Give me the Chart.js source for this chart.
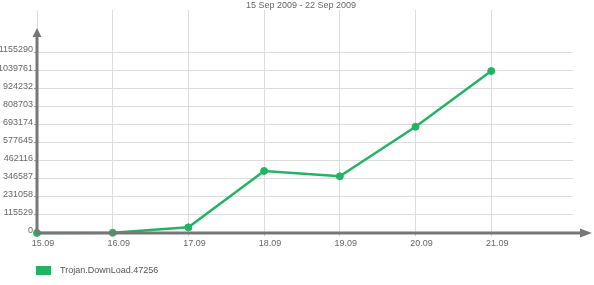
<!DOCTYPE html>
<html>
<head>
<meta charset="utf-8">
<script src="https://cdn.jsdelivr.net/npm/chart.js@4"></script>
<style>
  html, body { margin: 0; padding: 0; background: #fff; }
  #wrap { position: relative; width: 594px; height: 285px; }
  #legend { position: absolute; left: 36px; top: 265px; font: 9px "Liberation Sans", Arial, sans-serif; color: #555; }
  #legend span.box { display: inline-block; width: 15px; height: 9px; background: #22b462; vertical-align: -2px; margin-right: 9px; }
</style>
</head>
<body>
<div id="wrap">
  <canvas id="chart" width="594" height="285"></canvas>
  <div id="legend"><span class="box"></span>Trojan.DownLoad.47256</div>
</div>
<script>
const TITLE   = '15 Sep 2009 - 22 Sep 2009';
const X_LABELS = ['15.09', '16.09', '17.09', '18.09', '19.09', '20.09', '21.09'];
const VALUES   = [0, 1500, 36000, 396000, 362000, 678000, 1034000];
const Y_STEP   = 115529;
const Y_TOP_TICK = 1155290;

const GREEN = '#22b462';
const AXIS  = '#777';
const FONT  = '"Liberation Sans", Arial, sans-serif';

// ── custom axes with arrows + title ─────────────────────────────────────
const arrowAxes = {
  id: 'arrowAxes',
  afterDraw(chart) {
    const { ctx, chartArea: a } = chart;
    ctx.save();
    ctx.strokeStyle = AXIS; ctx.fillStyle = AXIS; ctx.lineWidth = 3;
    // y axis
    ctx.beginPath(); ctx.moveTo(a.left, a.bottom + 1); ctx.lineTo(a.left, 36); ctx.stroke();
    ctx.beginPath(); ctx.moveTo(a.left, 28); ctx.lineTo(a.left - 4.5, 37); ctx.lineTo(a.left + 4.5, 37); ctx.closePath(); ctx.fill();
    // x axis
    ctx.beginPath(); ctx.moveTo(a.left - 1, a.bottom); ctx.lineTo(581, a.bottom); ctx.stroke();
    ctx.beginPath(); ctx.moveTo(592, a.bottom); ctx.lineTo(580, a.bottom - 4.5); ctx.lineTo(580, a.bottom + 4.5); ctx.closePath(); ctx.fill();
    // title
    ctx.fillStyle = '#666';
    ctx.font = '9px ' + FONT;
    ctx.textAlign = 'center'; ctx.textBaseline = 'middle';
    ctx.fillText(TITLE, 301, 6);
    ctx.restore();
  }
};

new Chart(document.getElementById('chart'), {
  type: 'line',
  data: {
    datasets: [{
      label: 'Trojan.DownLoad.47256',
      data: VALUES.map((v, i) => ({ x: i, y: v })),
      borderColor: GREEN, backgroundColor: GREEN,
      borderWidth: 2.5, tension: 0,
      pointRadius: 3.5, pointBorderWidth: 1,
      pointBackgroundColor: GREEN, pointBorderColor: GREEN,
      clip: false
    }]
  },
  options: {
    responsive: false, animation: false,
    layout: { padding: { top: 10, right: 21, left: 0, bottom: 0 } },
    plugins: { legend: { display: false }, title: { display: false }, tooltip: { enabled: false } },
    scales: {
      x: {
        type: 'linear', min: 0, max: 7.08,
        afterBuildTicks: s => { s.ticks = X_LABELS.map((_, i) => ({ value: i })); },
        afterFit: s => { s.height = 52; },
        grid: { color: '#dcdcdc', tickColor: '#ccc', tickLength: 3 },
        border: { display: false },
        ticks: {
          callback: v => X_LABELS[v], padding: 2, labelOffset: 6, maxRotation: 0,
          color: '#666', font: { family: FONT, size: 9 }
        }
      },
      y: {
        min: 0, max: 1423400,
        afterBuildTicks: s => {
          const t = [];
          for (let v = 0; v <= Y_TOP_TICK; v += Y_STEP) t.push({ value: v });
          s.ticks = t;
        },
        afterFit: s => { s.width = 37; },
        grid: { color: '#dcdcdc', tickColor: '#999', tickLength: 3 },
        border: { display: false },
        ticks: {
          callback: v => String(v), padding: 1, labelOffset: -2,
          color: '#666', font: { family: FONT, size: 9 }
        }
      }
    }
  },
  plugins: [arrowAxes]
});
</script>
</body>
</html>
